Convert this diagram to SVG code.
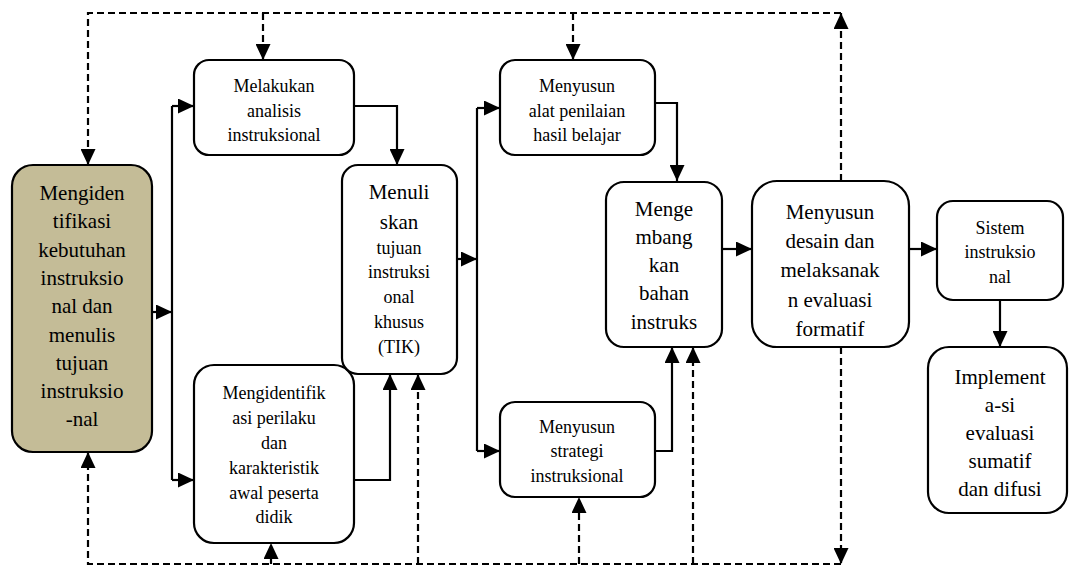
<svg xmlns="http://www.w3.org/2000/svg" width="1069" height="567" viewBox="0 0 1069 567">
<style>
.box{fill:#ffffff;stroke:#000;stroke-width:2.2}
.tan{fill:#c4bc97;stroke:#000;stroke-width:2.2}
text{fill:#000;text-anchor:middle}
.b{font-size:21px}
.s{font-size:18px}
.ln{fill:none;stroke:#000;stroke-width:2.2}
.ds{fill:none;stroke:#000;stroke-width:2.2;stroke-dasharray:7 4}
</style>
<defs>
<marker id="ah" viewBox="0 0 16 15" refX="16" refY="7.5" markerWidth="16" markerHeight="15" markerUnits="userSpaceOnUse" orient="auto">
<path d="M0,0 L16,7.5 L0,15 z" fill="#000" stroke="none"/>
</marker>
</defs>
<g id="connectors">
<path class="ln" d="M152,312 H172" marker-end="url(#ah)"/>
<path class="ln" d="M172,106 V480"/>
<path class="ln" d="M172,106 H194" marker-end="url(#ah)"/>
<path class="ln" d="M172,480 H194" marker-end="url(#ah)"/>
<path class="ln" d="M354,106 H397 V165" marker-end="url(#ah)"/>
<path class="ln" d="M354,480 H390 V374" marker-end="url(#ah)"/>
<path class="ln" d="M457,259 H477" marker-end="url(#ah)"/>
<path class="ln" d="M477,108 V451"/>
<path class="ln" d="M477,108 H500" marker-end="url(#ah)"/>
<path class="ln" d="M477,451 H500" marker-end="url(#ah)"/>
<path class="ln" d="M655,103 H677 V181" marker-end="url(#ah)"/>
<path class="ln" d="M655,451 H672 V347" marker-end="url(#ah)"/>
<path class="ln" d="M722,249 H752" marker-end="url(#ah)"/>
<path class="ln" d="M909,249 H937" marker-end="url(#ah)"/>
<path class="ln" d="M1000,300 V347" marker-end="url(#ah)"/>
<path class="ds" d="M841,181 V13" marker-end="url(#ah)"/>
<path class="ds" d="M841,13 H88 V165" marker-end="url(#ah)"/>
<path class="ds" d="M263,13 V60" marker-end="url(#ah)"/>
<path class="ds" d="M573,13 V60" marker-end="url(#ah)"/>
<path class="ds" d="M841,347 V564" marker-end="url(#ah)"/>
<path class="ds" d="M841,564 H88 V452" marker-end="url(#ah)"/>
<path class="ds" d="M271,564 V543" marker-end="url(#ah)"/>
<path class="ds" d="M418,564 V374" marker-end="url(#ah)"/>
<path class="ds" d="M579,564 V497" marker-end="url(#ah)"/>
<path class="ds" d="M693,564 V347" marker-end="url(#ah)"/>
</g>
<g font-family="'Liberation Serif', 'Times New Roman', serif">
<g id="n1">
<rect class="tan" x="12" y="165" width="140" height="287" rx="21"/>
<text class="b" x="82" y="200">Mengiden</text>
<text class="b" x="82" y="228.3">tifikasi</text>
<text class="b" x="82" y="256.6">kebutuhan</text>
<text class="b" x="82" y="284.9">instruksio</text>
<text class="b" x="82" y="313.2">nal dan</text>
<text class="b" x="82" y="341.5">menulis</text>
<text class="b" x="82" y="369.8">tujuan</text>
<text class="b" x="82" y="398.1">instruksio</text>
<text class="b" x="82" y="426.4">-nal</text>
</g>
<g id="n2">
<rect class="box" x="194" y="60" width="160" height="95" rx="15"/>
<text class="s" x="274" y="92">Melakukan</text>
<text class="s" x="274" y="117">analisis</text>
<text class="s" x="274" y="141">instruksional</text>
</g>
<g id="n3">
<rect class="box" x="194" y="365" width="160" height="178" rx="20"/>
<text class="s" x="274" y="399">Mengidentifik</text>
<text class="s" x="274" y="424">asi perilaku</text>
<text class="s" x="274" y="449">dan</text>
<text class="s" x="274" y="474">karakteristik</text>
<text class="s" x="274" y="499">awal peserta</text>
<text class="s" x="274" y="523">didik</text>
</g>
<g id="n4">
<rect class="box" x="342" y="165" width="115" height="209" rx="16"/>
<text class="b" x="399" y="199">Menuli</text>
<text class="b" x="399" y="229">skan</text>
<text class="s" x="399" y="254">tujuan</text>
<text class="s" x="399" y="278">instruksi</text>
<text class="s" x="399" y="303">onal</text>
<text class="s" x="399" y="328">khusus</text>
<text class="s" x="399" y="353">(TIK)</text>
</g>
<g id="n5">
<rect class="box" x="500" y="60" width="155" height="95" rx="15"/>
<text class="s" x="577" y="92">Menyusun</text>
<text class="s" x="577" y="117">alat penilaian</text>
<text class="s" x="577" y="141">hasil belajar</text>
</g>
<g id="n6">
<rect class="box" x="500" y="402" width="155" height="95" rx="15"/>
<text class="s" x="577" y="433">Menyusun</text>
<text class="s" x="577" y="457">strategi</text>
<text class="s" x="577" y="482">instruksional</text>
</g>
<g id="n7">
<rect class="box" x="606" y="182" width="116" height="165" rx="18"/>
<text class="b" x="664" y="216">Menge</text>
<text class="b" x="664" y="244">mbang</text>
<text class="b" x="664" y="272">kan</text>
<text class="b" x="664" y="300">bahan</text>
<text class="b" x="664" y="329">instruks</text>
</g>
<g id="n8">
<rect class="box" x="752" y="181" width="157" height="166" rx="25"/>
<text class="b" x="830" y="219">Menyusun</text>
<text class="b" x="830" y="248">desain dan</text>
<text class="b" x="830" y="277">melaksanak</text>
<text class="b" x="830" y="307">n evaluasi</text>
<text class="b" x="830" y="336">formatif</text>
</g>
<g id="n9">
<rect class="box" x="937" y="201" width="126" height="99" rx="16"/>
<text class="s" x="1000" y="234">Sistem</text>
<text class="s" x="1000" y="258">instruksio</text>
<text class="s" x="1000" y="283">nal</text>
</g>
<g id="n10">
<rect class="box" x="928" y="347" width="139" height="166" rx="21"/>
<text class="b" x="1000" y="384">Implement</text>
<text class="b" x="1000" y="412">a-si</text>
<text class="b" x="1000" y="440">evaluasi</text>
<text class="b" x="1000" y="468">sumatif</text>
<text class="b" x="1000" y="496">dan difusi</text>
</g>
</g>
</svg>
